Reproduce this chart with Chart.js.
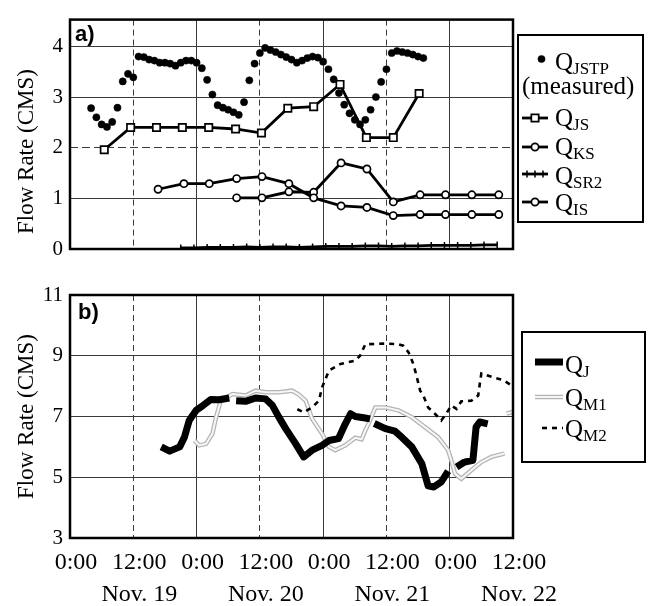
<!DOCTYPE html>
<html>
<head>
<meta charset="utf-8">
<script src="https://cdn.jsdelivr.net/npm/chart.js@4.4.0/dist/chart.umd.min.js"></script>
<style>
html,body{margin:0;padding:0;background:#fff;}
#wrap{position:relative;width:651px;height:606px;overflow:hidden;}
#ca{position:absolute;left:0;top:0;}
#cb{position:absolute;left:0;top:270px;}
</style>
</head>
<body>
<div id="wrap">
<canvas id="ca" width="651" height="270"></canvas>
<canvas id="cb" width="651" height="336"></canvas>
</div>
<script>
// ---------- shared x axis (hours since 0:00 Nov. 19) ----------
const xTickHours = [0, 12, 24, 36, 48, 60, 72, 84];
const xTickLabels = [["0:00"], ["12:00", "Nov. 19"], ["0:00"], ["12:00", "Nov. 20"],
                     ["0:00"], ["12:00", "Nov. 21"], ["0:00"], ["12:00", "Nov. 22"]];

// ---------- panel a ----------
const jstpHours = [4,5,6,7,8,9,10,11,12,13,14,15,16,17,18,19,20,21,22,23,24,25,26,27,28,29,30,31,32,33,34,35,
  36,37,38,39,40,41,42,43,44,45,46,47,48,49,50,51,52,53,54,55,56,57,58,59,60,61,62,63,64,65,66,67];
const jstpValues = [2.78,2.60,2.46,2.41,2.51,2.79,3.31,3.46,3.39,3.80,3.79,3.74,3.72,3.68,3.68,3.66,3.62,3.68,
  3.72,3.72,3.68,3.57,3.34,3.05,2.84,2.79,2.75,2.70,2.65,2.90,3.33,3.66,3.87,3.97,3.93,3.89,3.84,3.79,3.74,
  3.68,3.72,3.77,3.80,3.78,3.70,3.55,3.35,3.08,2.85,2.68,2.55,2.46,2.55,2.75,3.00,3.30,3.55,3.87,3.91,3.89,
  3.87,3.84,3.80,3.77];

const jsHours = [6.5, 11.5, 16.4, 21.3, 26.3, 31.4, 36.3, 41.3, 46.2, 51.2, 56.2, 61.3, 66.2];
const jsValues = [1.96, 2.40, 2.40, 2.40, 2.40, 2.37, 2.29, 2.78, 2.81, 3.25, 2.20, 2.20, 3.07];

const ksHours = [16.7, 21.6, 26.4, 31.6, 36.4, 41.5, 46.2, 51.4, 56.3, 61.3, 66.4, 71.2, 76.2, 81.3];
const ksValues = [1.18, 1.29, 1.29, 1.39, 1.43, 1.29, 1.01, 0.85, 0.82, 0.66, 0.68, 0.68, 0.68, 0.68];

const sr2Hours = [21, 23.5, 26, 28.5, 31, 33.5, 36, 38.5, 41, 43.5, 46, 48.5, 51, 53.5, 56, 58.5, 61, 63.5,
  66, 68.5, 71, 73.5, 76, 78.5, 81];
const sr2Values = [0.02, 0.02, 0.03, 0.03, 0.03, 0.04, 0.03, 0.04, 0.04, 0.03, 0.04, 0.05, 0.05, 0.05, 0.06,
  0.06, 0.05, 0.06, 0.06, 0.07, 0.07, 0.07, 0.07, 0.08, 0.08];

const isHours = [31.6, 36.4, 41.5, 46.2, 51.4, 56.3, 61.3, 66.4, 71.2, 76.2, 81.3];
const isValues = [1.01, 1.01, 1.13, 1.12, 1.70, 1.58, 0.93, 1.07, 1.07, 1.07, 1.07];

// ---------- panel b ----------
const jHours = [17.3, 18.9, 20.8, 21.7, 22.6, 23.9, 25.2, 26.7, 28.3, 30.2, 30.8, 31.5, 33.3, 35.2, 37.1, 38.4,
  39.6, 40.9, 42.8, 44.3, 45.9, 47.8, 49.1, 50.9, 52.2, 53.2, 54.1, 55.7, 56.9, 57.3, 57.7, 59.8, 61.6, 62.9,
  64.8, 66.7, 67.9, 69.0, 70.4, 71.7, 72.4, 73.3, 74.8, 76.4, 77.0, 77.7, 79.2];
const jValues = [6.0, 5.86, 6.0, 6.32, 6.87, 7.2, 7.36, 7.56, 7.55, 7.61, null, 7.52, 7.5, 7.61, 7.58, 7.36,
  6.98, 6.6, 6.1, 5.67, 5.89, 6.05, 6.21, 6.27, 6.76, 7.09, 7.0, 6.96, 6.92, null, 6.77, 6.6, 6.52, 6.32,
  6.0, 5.45, 4.72, 4.68, 4.85, 5.2, null, 5.34, 5.5, 5.56, 6.65, 6.82, 6.76];

const m1Hours = [23.6, 24.5, 25.8, 27.0, 27.7, 28.6, 30.8, 33.3, 35.2, 37.1, 39.6, 42.1, 43.4, 44.7, 45.9,
  47.8, 49.1, 50.3, 52.2, 54.1, 55.3, 56.0, 56.9, 57.9, 59.8, 62.3, 64.8, 67.3, 69.8, 71.7, 72.3, 73.0, 74.2,
  76.1, 78.0, 79.9, 82.4, 82.6, 82.8, 84];
const m1Values = [6.21, 6.05, 6.1, 6.43, 6.98, 7.52, 7.74, 7.69, 7.85, 7.8, 7.8, 7.85, 7.72, 7.52, 6.93,
  6.43, 6.0, 5.89, 6.05, 6.3, 6.25, 6.54, 6.87, 7.3, 7.3, 7.2, 6.98, 6.65, 6.32, 5.89, 5.56, 5.12, 4.95,
  5.23, 5.5, 5.67, 5.78, null, 7.1, 7.15];

const m2Hours = [43.1, 44.3, 45.9, 47.2, 47.8, 49.1, 51.3, 54.1, 55.0, 56.0, 59.8, 62.3, 63.2, 64.2, 65.1,
  65.7, 66.4, 67.0, 67.9, 69.2, 70.4, 71.4, 72.3, 73.3, 74.2, 76.1, 77.4, 77.7, 78.0, 80.2, 82.1, 83.5];
const m2Values = [7.24, 7.14, 7.3, 7.52, 7.96, 8.51, 8.73, 8.84, 9.0, 9.38, 9.4, 9.38, 9.33, 9.11, 8.73,
  8.34, 7.85, 7.69, 7.3, 7.09, 6.87, 7.11, 7.36, 7.25, 7.5, 7.52, 7.69, 8.07, 8.42, 8.29, 8.2, 8.05];

// ---------- helpers ----------
const SERIF = '"Liberation Serif", "Times New Roman", serif';
function pts(h, v) { return h.map((x, i) => ({ x: x, y: v[i] })); }

function drawMarker(ctx, style, r, x, y, fill, stroke, lw) {
  ctx.save();
  ctx.setLineDash([]);
  ctx.beginPath();
  if (style === 'rect') { const s = r * Math.SQRT1_2; ctx.rect(x - s, y - s, 2 * s, 2 * s); }
  else if (style === 'line') { ctx.moveTo(x, y - r); ctx.lineTo(x, y + r); }
  else { ctx.arc(x, y, r, 0, Math.PI * 2); }
  ctx.fillStyle = fill; ctx.strokeStyle = stroke; ctx.lineWidth = lw;
  if (style !== 'line') ctx.fill();
  ctx.stroke();
  ctx.restore();
}

function drawQ(ctx, label, x, cy) {
  const parts = label.split('_');
  ctx.fillStyle = '#000';
  ctx.textAlign = 'left';
  ctx.textBaseline = 'alphabetic';
  ctx.font = '25px ' + SERIF;
  const base = cy + 8.5;
  ctx.fillText(parts[0], x, base);
  const w = ctx.measureText(parts[0]).width;
  if (parts[1]) {
    ctx.font = '17px ' + SERIF;
    ctx.fillText(parts[1], x + w, base + 4);
  }
}

const decor = {
  id: 'decor',
  afterDraw(chart, args, o) {
    const ctx = chart.ctx, a = chart.chartArea;
    ctx.save();
    // plot frame
    ctx.strokeStyle = '#000';
    ctx.lineWidth = 2.5;
    ctx.strokeRect(a.left, a.top, a.right - a.left, a.bottom - a.top);
    // panel tag
    ctx.font = 'bold 22px "Liberation Sans", Arial, sans-serif';
    ctx.fillStyle = '#000';
    ctx.textAlign = 'left';
    ctx.textBaseline = 'alphabetic';
    ctx.fillText(o.tag, a.left + o.tagDx, a.top + o.tagDy);
    // legend box
    const b = o.box;
    ctx.lineWidth = 2;
    ctx.strokeRect(b.x, b.y, b.w, b.h);
    o.rows.forEach(r => {
      if (r.text) {
        ctx.font = '25px ' + SERIF;
        ctx.fillStyle = '#000';
        ctx.textAlign = 'left';
        ctx.textBaseline = 'alphabetic';
        ctx.fillText(r.text, r.tx, r.cy + 8.5);
        return;
      }
      r.sets.forEach(idx => {
        const ds = chart.data.datasets[idx];
        if (ds.showLine !== false) {
          ctx.save();
          ctx.strokeStyle = ds.borderColor;
          ctx.lineWidth = ds.borderWidth;
          ctx.setLineDash(ds.borderDash || []);
          ctx.lineCap = 'butt';
          ctx.beginPath();
          ctx.moveTo(r.x0, r.sy);
          ctx.lineTo(r.x1, r.sy);
          ctx.stroke();
          ctx.restore();
        }
        if (ds.pointRadius > 0) {
          const xs = r.marks || [(r.x0 + r.x1) / 2];
          xs.forEach(mx => drawMarker(ctx, ds.pointStyle, ds.pointRadius, mx, r.sy,
            ds.pointBackgroundColor, ds.pointBorderColor, ds.pointBorderWidth));
        }
      });
      drawQ(ctx, chart.data.datasets[r.sets[r.sets.length - 1]].label, r.tx, r.cy);
    });
    ctx.restore();
  }
};

function xScale(showTicks, height) {
  return {
    type: 'linear', min: 0, max: 84,
    afterBuildTicks(s) { s.ticks = xTickHours.map(v => ({ value: v })); },
    afterFit(s) { s.height = height; },
    grid: { color: '#3a3a3a', lineWidth: 1, drawTicks: false },
    border: { display: false, dash: c => (c.tick && c.tick.value % 24 === 12) ? [6, 4] : [] },
    ticks: {
      display: showTicks, autoSkip: false, maxRotation: 0, padding: 9, labelOffset: 6,
      color: '#000', font: { family: SERIF, size: 24, lineHeight: 1.33 },
      callback: (v) => { const i = xTickHours.indexOf(v); return i >= 0 ? xTickLabels[i] : ''; }
    }
  };
}

function yScale(min, max, step, dashVal, titleText) {
  return {
    type: 'linear', min: min, max: max,
    afterFit(s) { s.width = 70; },
    grid: { color: '#3a3a3a', lineWidth: 1, drawTicks: false },
    border: { display: false, dash: c => (c.tick && c.tick.value === dashVal) ? [8, 4] : [] },
    ticks: { stepSize: step, includeBounds: false, padding: 7, color: '#000',
             font: { family: SERIF, size: 21 } },
    title: { display: true, text: titleText, color: '#000', padding: { top: 13, bottom: 0 },
             font: { family: SERIF, size: 23 } }
  };
}

// ---------- chart a ----------
new Chart(document.getElementById('ca'), {
  type: 'line',
  data: {
    datasets: [
      { label: 'Q_JSTP', data: pts(jstpHours, jstpValues), showLine: false, pointStyle: 'circle',
        pointRadius: 3.6, pointBackgroundColor: '#000', pointBorderColor: '#000', pointBorderWidth: 0.5 },
      { label: 'Q_JS', data: pts(jsHours, jsValues), borderColor: '#000', borderWidth: 2.8, tension: 0,
        pointStyle: 'rect', pointRadius: 5.2, pointBackgroundColor: '#fff', pointBorderColor: '#000', pointBorderWidth: 1.7 },
      { label: 'Q_KS', data: pts(ksHours, ksValues), borderColor: '#000', borderWidth: 2.8, tension: 0,
        pointStyle: 'circle', pointRadius: 3.6, pointBackgroundColor: '#fff', pointBorderColor: '#000', pointBorderWidth: 1.7 },
      { label: 'Q_SR2', data: pts(sr2Hours, sr2Values), borderColor: '#000', borderWidth: 2.8, tension: 0,
        pointStyle: 'line', pointRotation: 90, pointRadius: 3.5, pointBackgroundColor: '#000', pointBorderColor: '#000', pointBorderWidth: 1.5 },
      { label: 'Q_IS', data: pts(isHours, isValues), borderColor: '#000', borderWidth: 2.8, tension: 0,
        pointStyle: 'circle', pointRadius: 3.6, pointBackgroundColor: '#fff', pointBorderColor: '#000', pointBorderWidth: 1.7 }
    ]
  },
  options: {
    responsive: false, animation: false, devicePixelRatio: 1,
    layout: { padding: { left: 0, top: 10, right: 138, bottom: 0 } },
    plugins: {
      legend: { display: false }, tooltip: { enabled: false },
      decor: {
        tag: 'a)', tagDx: 5, tagDy: 21,
        box: { x: 518, y: 35, w: 125, h: 187 },
        rows: [
          { sets: [0], x0: 533, x1: 550, sy: 59, marks: [541.5], tx: 555, cy: 61 },
          { text: '(measured)', tx: 522, cy: 85 },
          { sets: [1], x0: 522, x1: 548, sy: 118, tx: 555, cy: 117 },
          { sets: [2], x0: 522, x1: 548, sy: 147, tx: 555, cy: 146 },
          { sets: [3], x0: 522, x1: 548, sy: 174, marks: [527, 535, 543], tx: 555, cy: 175 },
          { sets: [4], x0: 522, x1: 548, sy: 202, tx: 555, cy: 202 }
        ]
      }
    },
    scales: {
      x: xScale(false, 21),
      y: yScale(0, 4.53, 1, 2, 'Flow Rate (CMS)      ')
    }
  },
  plugins: [decor]
});

// ---------- chart b ----------
new Chart(document.getElementById('cb'), {
  type: 'line',
  data: {
    datasets: [
      { label: 'Q_J', data: pts(jHours, jValues), borderColor: '#000', borderWidth: 7, tension: 0,
        borderJoinStyle: 'round', pointRadius: 0 },
      { label: 'Q_M2', data: pts(m2Hours, m2Values), borderColor: '#000', borderWidth: 2.6, tension: 0,
        borderDash: [5, 5], pointRadius: 0 },
      { label: 'Q_M1', data: pts(m1Hours, m1Values), borderColor: '#f6f6f6', borderWidth: 2, tension: 0,
        pointRadius: 0 },
      { label: 'Q_M1', data: pts(m1Hours, m1Values), borderColor: '#b4b4b4', borderWidth: 4.5, tension: 0,
        pointRadius: 0 }
    ]
  },
  options: {
    responsive: false, animation: false, devicePixelRatio: 1,
    layout: { padding: { left: 0, top: 25, right: 138, bottom: 0 } },
    plugins: {
      legend: { display: false }, tooltip: { enabled: false },
      decor: {
        tag: 'b)', tagDx: 8, tagDy: 24,
        box: { x: 522, y: 62, w: 123, h: 130 },
        rows: [
          { sets: [0], x0: 535, x1: 563, sy: 92, tx: 565, cy: 94 },
          { sets: [3, 2], x0: 535, x1: 563, sy: 127, tx: 565, cy: 127 },
          { sets: [1], x0: 542, x1: 563, sy: 158, tx: 565, cy: 158 }
        ]
      }
    },
    scales: {
      x: xScale(true, 68),
      y: yScale(3, 11, 2, null, 'Flow Rate (CMS)')
    }
  },
  plugins: [decor]
});
</script>
</body>
</html>
